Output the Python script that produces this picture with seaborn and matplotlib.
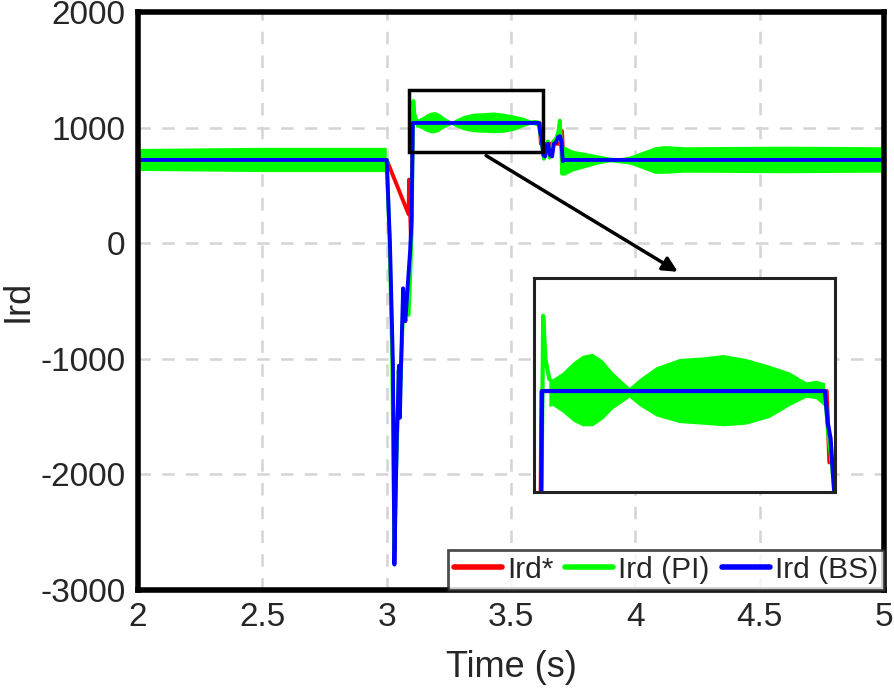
import numpy as np
import matplotlib
matplotlib.use("Agg")
import matplotlib.pyplot as plt
import seaborn as sns
from matplotlib.patches import Rectangle

# Ird* reference
t_ref = [2.0, 3.0, 3.088, 3.09, 3.098, 3.104, 3.615, 3.62, 3.703, 3.705, 3.71, 5.0]
ird_ref = [720, 720, 250, 550, 0, 1040, 1040, 860, 860, 970, 720, 720]

# Ird (BS)
t_bs = [2.0, 3.0, 3.013, 3.025, 3.031, 3.036, 3.041, 3.045, 3.049, 3.053, 3.057, 3.061,
        3.066, 3.070, 3.075, 3.085, 3.094, 3.100, 3.105, 3.612, 3.617, 3.622, 3.630, 3.637,
        3.643, 3.649, 3.657, 3.665, 3.672, 3.680, 3.690, 3.697, 3.702, 3.708, 3.715, 5.0]
ird_bs = [720, 720, 0, -1050, -2780, -2200, -1650, -1400, -1060, -1510, -1100, -790,
          -390, -560, -675, -350, -70, 200, 1040, 1040, 960, 920, 760, 750,
          850, 860, 760, 750, 860, 870, 920, 925, 880, 710, 720, 720]

# Ird (PI) transients
t_pi1 = [3.0, 3.012, 3.022, 3.031, 3.037, 3.043, 3.048, 3.052, 3.058, 3.064, 3.070,
         3.078, 3.088, 3.095, 3.100, 3.104, 3.107, 3.111, 3.118]
ird_pi1 = [720, 0, -1000, -2650, -2000, -1600, -1100, -1450, -1050, -700, -450,
           -600, -620, -250, 100, 800, 1230, 1120, 1070]
t_pi2 = [3.612, 3.618, 3.625, 3.632, 3.640, 3.648, 3.655, 3.663, 3.670, 3.680, 3.690,
         3.696, 3.700, 3.706, 3.712]
ird_pi2 = [1040, 930, 850, 730, 820, 880, 740, 760, 880, 900, 960, 1060, 900, 600, 720]

# Ird (PI) oscillation envelope (nan = gap)
t_band = [2.0, 2.5, 3.0, np.nan,
          3.118, 3.125, 3.143, 3.161, 3.178, 3.196, 3.214, 3.232, 3.262, 3.28, 3.31,
          3.352, 3.394, 3.43, 3.471, 3.513, 3.549, 3.579, 3.597, 3.612, np.nan,
          3.712, 3.75, 3.8, 3.85, 3.9, 3.94, 3.98, 4.03, 4.08, 4.12, 4.2, 4.6, 5.0]
pi_upper = [815, 825, 825, np.nan,
            1070, 1070, 1087, 1112, 1129, 1134, 1117, 1087, 1048, 1070, 1100,
            1121, 1125, 1131, 1121, 1104, 1087, 1062, 1066, 1060, np.nan,
            840, 800, 780, 760, 740, 735, 750, 790, 830, 840, 830, 835, 830]
pi_lower = [625, 615, 615, np.nan,
            1000, 1002, 985, 963, 951, 951, 968, 994, 1023, 1002, 976,
            959, 955, 951, 955, 972, 1002, 1023, 1019, 1000, np.nan,
            580, 620, 650, 680, 700, 690, 680, 640, 600, 600, 610, 605, 610]

zoom_x = (3.09, 3.63)
zoom_y = (785, 1325)

RED, GREEN, BLUE = "#ff0000", "#00ff00", "#0000ff"

sns.set_style("white")
plt.rcParams['font.family'] = ['Liberation Sans', 'DejaVu Sans']
plt.rcParams['axes.unicode_minus'] = False


def draw(ax, lw, legend):
    sns.lineplot(x=t_ref, y=ird_ref, ax=ax, color=RED, lw=lw, estimator=None, sort=False,
                 label='Ird*' if legend else None, legend=legend, zorder=2)
    ax.fill_between(t_band, pi_lower, pi_upper, color=GREEN, lw=0, zorder=2.1)
    sns.lineplot(x=t_pi1, y=ird_pi1, ax=ax, color=GREEN, lw=lw, estimator=None, sort=False,
                 label='Ird (PI)' if legend else None, legend=legend, zorder=2.1)
    sns.lineplot(x=t_pi2, y=ird_pi2, ax=ax, color=GREEN, lw=lw, estimator=None, sort=False,
                 legend=False, zorder=2.1)
    sns.lineplot(x=t_bs, y=ird_bs, ax=ax, color=BLUE, lw=lw, estimator=None, sort=False,
                 label='Ird (BS)' if legend else None, legend=legend, zorder=2.2)


fig = plt.figure(figsize=(8.94, 6.92), dpi=100)
ax = fig.add_axes([0.1544, 0.1474, 0.8345, 0.8353])
draw(ax, 2.8, True)

ax.set_xlim(2, 5)
ax.set_ylim(-3000, 2000)
ax.set_xticks([2, 2.5, 3, 3.5, 4, 4.5, 5])
ax.set_xticklabels(['2', '2.5', '3', '3.5', '4', '4.5', '5'])
ax.set_yticks([-3000, -2000, -1000, 0, 1000, 2000])
ax.grid(True, color='#d4d4d4', lw=1.8, linestyle=(0, (5, 4.5)))
ax.tick_params(direction='in', length=5, width=2, labelsize=24, pad=9,
               colors='#262626', labelcolor='#262626')
for s in ax.spines.values():
    s.set_linewidth(4)
    s.set_color('k')
ax.set_xlabel('Time (s)', fontsize=26, color='#262626', labelpad=12)
ax.set_ylabel('Ird', fontsize=26, color='#262626', labelpad=3)

leg = ax.legend(loc='lower right', ncol=3, fontsize=21.6, frameon=True, fancybox=False,
                borderaxespad=0, handlelength=1.6, handletextpad=0.17, columnspacing=0.4,
                borderpad=0.2)
leg.get_frame().set_edgecolor('#222222')
leg.get_frame().set_linewidth(2)
leg.set_zorder(6)
for line in leg.get_lines():
    line.set_linewidth(4)

ax.add_patch(Rectangle((zoom_x[0], zoom_y[0]), zoom_x[1] - zoom_x[0], zoom_y[1] - zoom_y[0],
                       fill=False, ec='k', lw=2.5, zorder=5))
ax.annotate('', xy=(4.18, -260), xytext=(3.39, 770),
            arrowprops=dict(arrowstyle='-|>', color='k', lw=2.5, mutation_scale=22),
            zorder=5)

axin = fig.add_axes([0.597, 0.289, 0.337, 0.309])
draw(axin, 3.0, False)
axin.set_xlim(*zoom_x)
axin.set_ylim(*zoom_y)
axin.set_xticks([])
axin.set_yticks([])
axin.set_xlabel('')
axin.set_ylabel('')
for s in axin.spines.values():
    s.set_linewidth(2.2)
    s.set_color('#222222')

fig.savefig('out.png', dpi=100)
